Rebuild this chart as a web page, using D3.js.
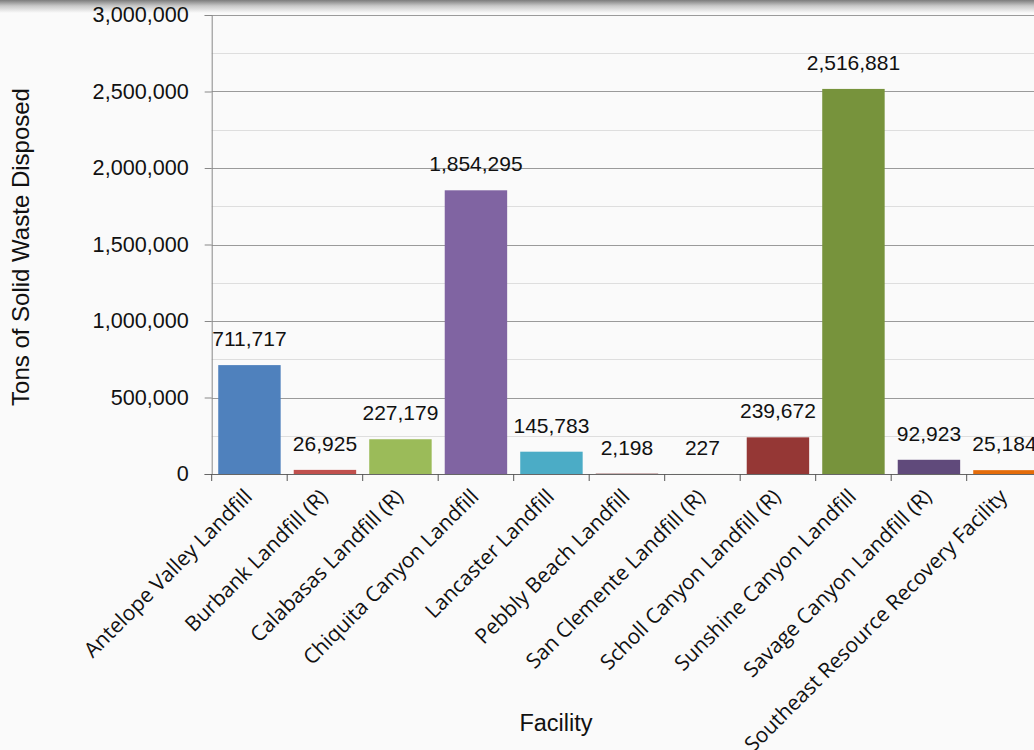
<!DOCTYPE html>
<html>
<head>
<meta charset="utf-8">
<script src="https://cdn.jsdelivr.net/npm/d3@7/dist/d3.min.js"></script>
<style>
  html, body { margin: 0; padding: 0; background: #fafafa; overflow: hidden; }
  svg { display: block; }
</style>
</head>
<body>
<svg id="chart" width="1034" height="750"></svg>
<script>
// ---- data ----
const facilities = [
  "Antelope Valley Landfill",
  "Burbank Landfill (R)",
  "Calabasas Landfill (R)",
  "Chiquita Canyon Landfill",
  "Lancaster Landfill",
  "Pebbly Beach Landfill",
  "San Clemente Landfill (R)",
  "Scholl Canyon Landfill (R)",
  "Sunshine Canyon Landfill",
  "Savage Canyon Landfill (R)",
  "Southeast Resource Recovery Facility"
];
const tons = [711717, 26925, 227179, 1854295, 145783, 2198, 227, 239672, 2516881, 92923, 25184];
const barColors = ["#4f81bd", "#c0504d", "#9bbb59", "#8064a2", "#4bacc6", "#772c2a",
                   "#5f7530", "#953735", "#77933c", "#604a7b", "#e46c0a"];
const majorTicks = [0, 500000, 1000000, 1500000, 2000000, 2500000, 3000000];
const minorTicks = [250000, 750000, 1250000, 1750000, 2250000, 2750000];
const yTitle = "Tons of Solid Waste Disposed";
const xTitle = "Facility";

// ---- layout ----
const svg = d3.select("#chart");
const W = 1034, H = 750;
const plotLeft = 211.7, plotTop = 15, plotBottom = 474;
const step = 75.5;
const plotRight = plotLeft + step * facilities.length;

// background + top shadow
const defs = svg.append("defs");
const grad = defs.append("linearGradient").attr("id", "shade").attr("x1", 0).attr("y1", 0).attr("x2", 0).attr("y2", 1);
grad.append("stop").attr("offset", "0%").attr("stop-color", "#7c7c7c");
grad.append("stop").attr("offset", "45%").attr("stop-color", "#c8c8c8");
grad.append("stop").attr("offset", "100%").attr("stop-color", "#fafafa");
svg.append("rect").attr("width", W).attr("height", H).attr("fill", "#fafafa");
svg.append("rect").attr("width", W).attr("height", 13).attr("fill", "url(#shade)");

const x = d3.scaleBand().domain(facilities).range([plotLeft, plotRight])
  .paddingInner(0.173).paddingOuter(0.0865);
const y = d3.scaleLinear().domain([0, 3000000]).range([plotBottom, plotTop]);

// minor gridlines
svg.append("g").selectAll("line").data(minorTicks).join("line")
  .attr("x1", plotLeft).attr("x2", plotRight + 20)
  .attr("y1", d => Math.round(y(d)) + 0.5).attr("y2", d => Math.round(y(d)) + 0.5)
  .attr("stroke", "#dedede").attr("stroke-width", 1);

// major gridlines
svg.append("g").selectAll("line").data(majorTicks.filter(d => d > 0)).join("line")
  .attr("x1", plotLeft).attr("x2", plotRight + 20)
  .attr("y1", d => Math.round(y(d)) + 0.5).attr("y2", d => Math.round(y(d)) + 0.5)
  .attr("stroke", "#9a9a9a").attr("stroke-width", 1);

// bars
svg.append("g").selectAll("rect").data(facilities).join("rect")
  .attr("x", d => x(d))
  .attr("width", x.bandwidth())
  .attr("y", (d, i) => y(tons[i]))
  .attr("height", (d, i) => plotBottom - y(tons[i]))
  .attr("fill", (d, i) => barColors[i]);

// y axis
const yAxis = d3.axisLeft(y).tickValues(majorTicks).tickFormat(d3.format(","))
  .tickSize(7).tickPadding(16);
const gy = svg.append("g").attr("transform", `translate(${plotLeft},0)`).call(yAxis);
gy.select(".domain").attr("stroke", "#888");
gy.selectAll(".tick line").attr("stroke", "#888");
gy.selectAll(".tick text").attr("font-family", "'Liberation Sans', Arial, sans-serif")
  .attr("font-size", 21.6).attr("fill", "#111");

// x axis
const gx = svg.append("g").attr("transform", `translate(0,${plotBottom})`);
gx.append("line").attr("x1", plotLeft - 7).attr("x2", plotRight + 20)
  .attr("y1", 0.5).attr("y2", 0.5).attr("stroke", "#666");
const edges = facilities.map(d => x(d) - x.step() * x.paddingInner() / 2);
gx.selectAll("line.tk").data(edges).join("line").attr("class", "tk")
  .attr("x1", d => d).attr("x2", d => d).attr("y1", 0).attr("y2", 7)
  .attr("stroke", "#555");
gx.selectAll("text").data(facilities).join("text")
  .attr("transform", d => `translate(${x(d) + x.bandwidth() / 2 + 4},24) rotate(-45)`)
  .attr("text-anchor", "end")
  .attr("font-family", "'Open Sans', 'Noto Sans', sans-serif")
  .attr("font-size", 21).attr("fill", "#111")
  .text(d => d);

// data labels
svg.append("g").selectAll("text").data(facilities).join("text")
  .attr("x", d => x(d) + x.bandwidth() / 2)
  .attr("y", (d, i) => y(tons[i]) - 19)
  .attr("text-anchor", "middle")
  .attr("font-family", "'Liberation Sans', Arial, sans-serif")
  .attr("font-size", 21).attr("fill", "#111")
  .text((d, i) => d3.format(",")(tons[i]));

// axis titles
svg.append("text")
  .attr("transform", "translate(29,247) rotate(-90)")
  .attr("text-anchor", "middle")
  .attr("font-family", "'Liberation Sans', Arial, sans-serif")
  .attr("font-size", 24).attr("fill", "#111")
  .text(yTitle);
svg.append("text")
  .attr("x", 556).attr("y", 731)
  .attr("text-anchor", "middle")
  .attr("font-family", "'Liberation Sans', Arial, sans-serif")
  .attr("font-size", 23.5).attr("fill", "#111")
  .text(xTitle);
</script>
</body>
</html>
